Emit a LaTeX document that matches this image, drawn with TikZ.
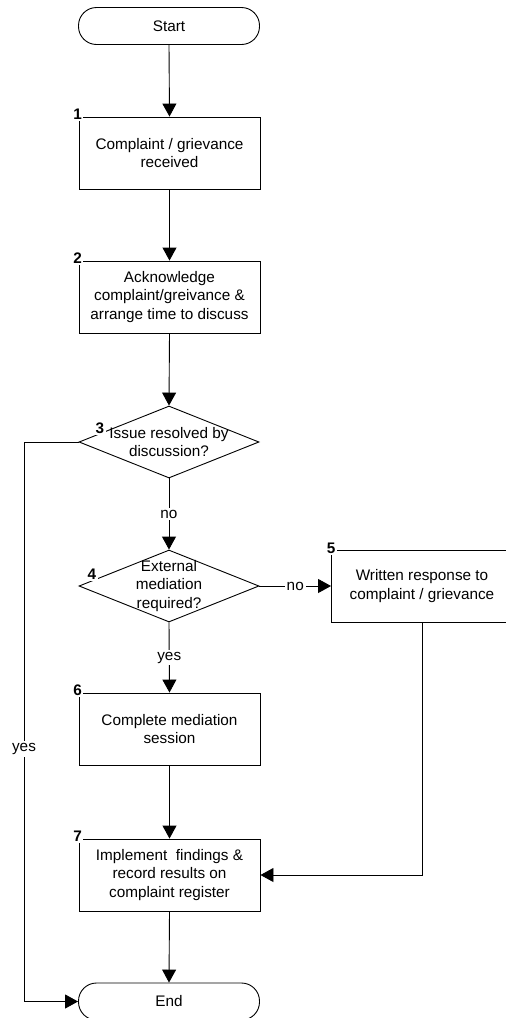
\documentclass[tikz,border=0pt]{standalone}
\usepackage{fontspec}
\setmainfont{Liberation Sans}
\usetikzlibrary{shapes.geometric,arrows.meta}
\begin{document}
\begin{tikzpicture}[x=1pt,y=-1pt,
  every node/.style={font=\fontsize{15.3}{18.3}\selectfont},
  proc/.style={draw,line width=0.9pt,minimum width=181pt,minimum height=72pt,align=center,inner sep=0pt},
  term/.style={draw,line width=0.9pt,rounded corners=18pt,minimum width=181pt,minimum height=37pt,inner sep=0pt},
  dec/.style={draw,line width=0.9pt,diamond,minimum width=180pt,minimum height=72pt,inner sep=0pt},
  txt/.style={align=center,inner sep=0pt},
  num/.style={fill=white,inner sep=1.5pt,font=\bfseries\fontsize{15.3}{18.3}\selectfont},
  lbl/.style={fill=white,inner sep=2pt},
  arr/.style={line width=0.9pt,-{Triangle[length=13pt,width=14pt]}},
  ln/.style={line width=0.9pt}]
\useasboundingbox (0,0) rectangle (506,1018);

\node[term] (start) at (169,26) {Start};
\node[proc] (b1) at (169.5,153) {Complaint / grievance\\received};
\node[proc] (b2) at (169.5,297) {Acknowledge\\complaint/greivance \&\\arrange time to discuss};
\node[dec] (d3) at (169,442) {};
\node[txt] (t3) at (169,442) {Issue resolved by\\discussion?};
\node[dec] (d4) at (169,586) {};
\node[txt] (t4) at (169,586) {External\\mediation\\required?};
\node[proc] (b5) at (422,586) {Written response to\\complaint / grievance};
\node[proc] (b6) at (169.5,729) {Complete mediation\\session};
\node[proc] (b7) at (169.5,875) {Implement~ findings \&\\record results on\\complaint register};
\node[term] (end) at (169,1001.5) {End};

\node[num] (n1) at ([shift={(-1,-2)}]b1.north west) {1};
\node[num] (n2) at ([shift={(-1,-2)}]b2.north west) {2};
\node[num] (n3) at (100,428) {3};
\node[num] (n4) at (92,574) {4};
\node[num] (n5) at ([shift={(0,-1)}]b5.north west) {5};
\node[num] (n6) at ([shift={(-1,-2)}]b6.north west) {6};
\node[num] (n7) at ([shift={(-1,-2)}]b7.north west) {7};

\draw[arr] (start.south) -- (b1.north);
\draw[arr] (b1.south) -- (b2.north);
\draw[arr] (b2.south) -- (d3.north);
\draw[arr] (d3.south) -- node[lbl] (lno1) {no} (d4.north);
\draw[arr] (d4.east) -- node[lbl] (lno2) {no} (b5.west);
\draw[arr] (d4.south) -- node[lbl] (lyes1) {yes} (b6.north);
\draw[arr] (b6.south) -- (b7.north);
\draw[arr] (b7.south) -- (end.north);
\coordinate (c1) at (24,442);
\coordinate (c2) at (24,1001.5);
\draw[arr] (d3.west) -- (c1) -- node[lbl,pos=0.549] (lyes2) {yes} (c2) -- (end.west);
\coordinate (c3) at (422,875);
\draw[arr] (b5.south) -- (c3) -- (b7.east);
\end{tikzpicture}
\end{document}
